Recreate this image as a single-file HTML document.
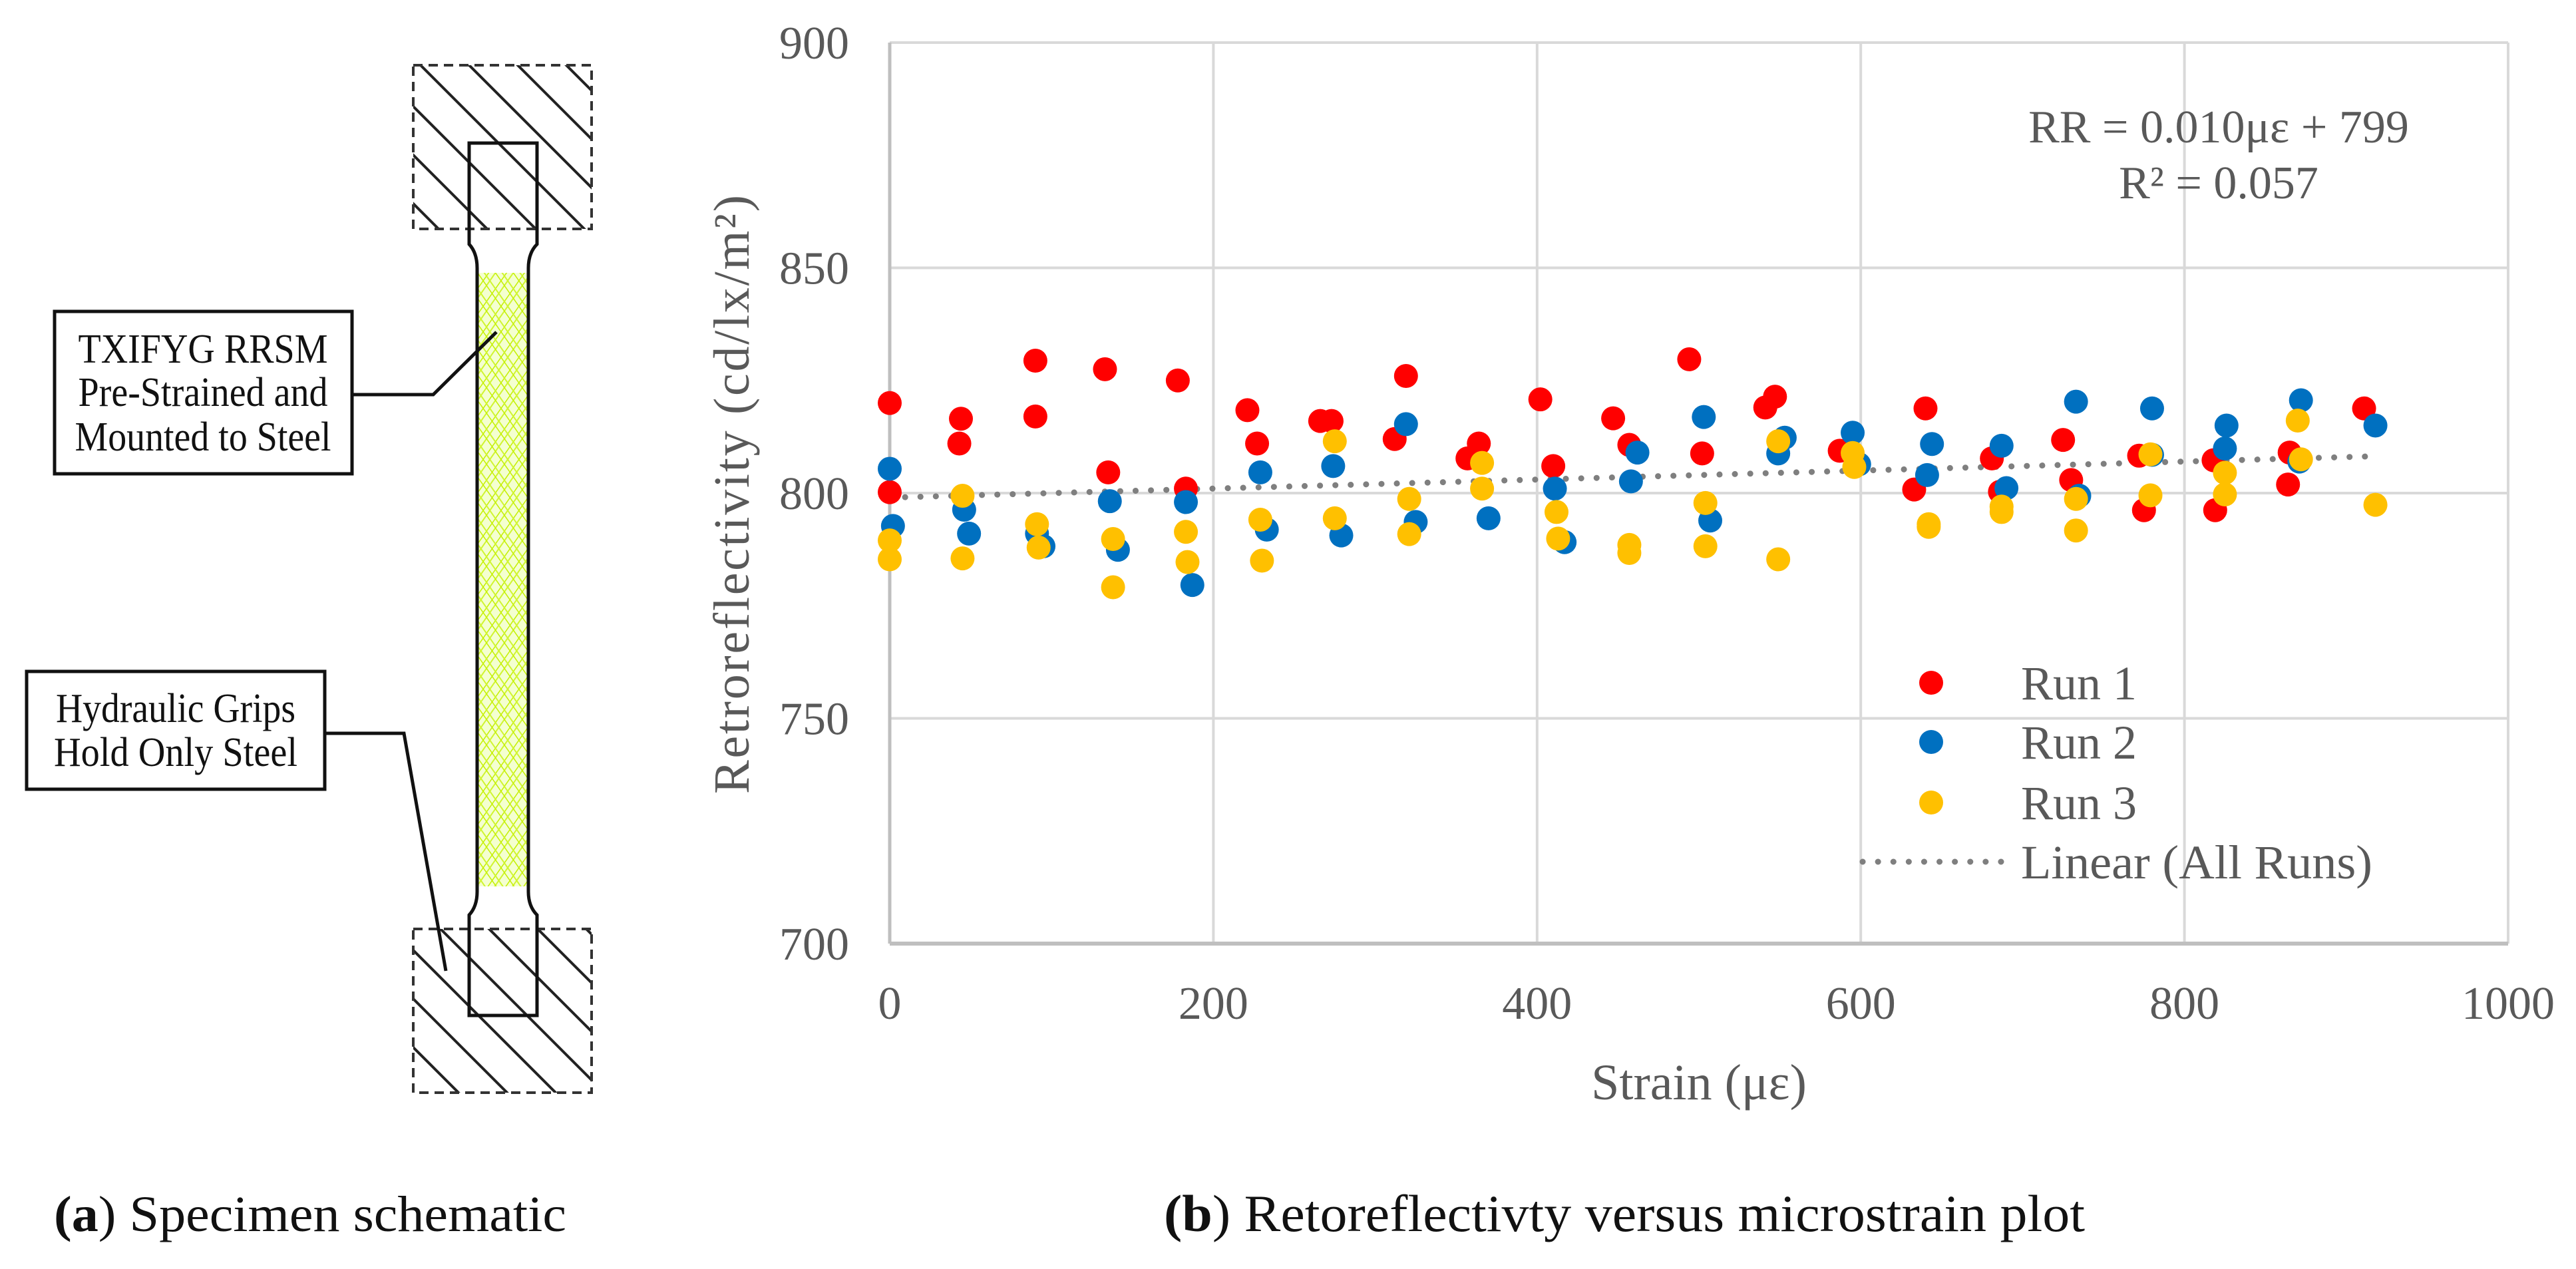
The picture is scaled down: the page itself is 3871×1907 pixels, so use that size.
<!DOCTYPE html>
<html><head><meta charset="utf-8"><style>
html,body{margin:0;padding:0;background:#fff;}
svg{display:block;}
text{font-family:"Liberation Serif",serif;}
</style></head><body>
<svg id="fig" width="3871" height="1907" viewBox="0 0 3871 1907" xmlns="http://www.w3.org/2000/svg">
<defs>
<pattern id="greenhatch" width="22" height="22" patternUnits="userSpaceOnUse" patternTransform="rotate(35)">
<rect width="22" height="22" fill="#f4ffd0"/>
<line x1="0" y1="0" x2="0" y2="22" stroke="#c4f000" stroke-width="3"/>
<line x1="9" y1="0" x2="9" y2="22" stroke="#d0f530" stroke-width="2"/>
</pattern>
<pattern id="greenhatch2" width="22" height="22" patternUnits="userSpaceOnUse" patternTransform="rotate(-35)">
<line x1="0" y1="0" x2="0" y2="22" stroke="#c4f000" stroke-width="3"/>
<line x1="9" y1="0" x2="9" y2="22" stroke="#d0f530" stroke-width="2"/>
</pattern>
<clipPath id="clipTop"><rect x="621" y="98" width="268" height="246"/></clipPath>
<clipPath id="clipBot"><rect x="621" y="1396" width="268" height="246"/></clipPath>
</defs>

<g id="schematic">
  <g id="hatchTop" clip-path="url(#clipTop)"></g>
  <g id="hatchBot" clip-path="url(#clipBot)"></g>
  <rect x="621" y="98" width="268" height="246" fill="none" stroke="#333" stroke-width="4" stroke-dasharray="14,9"/>
  <rect x="621" y="1396" width="268" height="246" fill="none" stroke="#333" stroke-width="4" stroke-dasharray="14,9"/>
  <rect x="717" y="410" width="77" height="922" fill="url(#greenhatch)"/>
  <rect x="717" y="410" width="77" height="922" fill="url(#greenhatch2)"/>
  <path d="M705,215 L807,215 L807,367 Q794,380 794,403 L794,1340 Q794,1362 807,1375 L807,1526 L705,1526 L705,1375 Q717,1362 717,1340 L717,403 Q717,380 705,367 Z" fill="none" stroke="#111" stroke-width="5"/>
  <rect x="82" y="468" width="447" height="244" fill="#fff" stroke="#111" stroke-width="5"/>
  <text x="305" y="545" font-size="62" text-anchor="middle" fill="#111" textLength="375" lengthAdjust="spacingAndGlyphs">TXIFYG RRSM</text>
  <text x="305" y="610" font-size="62" text-anchor="middle" fill="#111" textLength="375" lengthAdjust="spacingAndGlyphs">Pre-Strained and</text>
  <text x="305" y="677" font-size="62" text-anchor="middle" fill="#111" textLength="385" lengthAdjust="spacingAndGlyphs">Mounted to Steel</text>
  <polyline points="529,593 651,593 746,499" fill="none" stroke="#111" stroke-width="5"/>
  <rect x="40" y="1009" width="448" height="177" fill="#fff" stroke="#111" stroke-width="5"/>
  <text x="264" y="1085" font-size="62" text-anchor="middle" fill="#111" textLength="360" lengthAdjust="spacingAndGlyphs">Hydraulic Grips</text>
  <text x="264" y="1151" font-size="62" text-anchor="middle" fill="#111" textLength="366" lengthAdjust="spacingAndGlyphs">Hold Only Steel</text>
  <polyline points="488,1102 607,1102 670,1459" fill="none" stroke="#111" stroke-width="5"/>
  <text x="81" y="1850" font-size="76" fill="#111" textLength="770" lengthAdjust="spacingAndGlyphs"><tspan font-weight="bold">(a</tspan>) Specimen schematic</text>
</g>

<g id="chart">
  <g id="grid"></g>
  <g id="yticks"></g>
  <g id="xticks"></g>
  <g id="trend"></g>
  <g id="points"></g>
  <text transform="translate(1125,743) rotate(-90)" font-size="76" text-anchor="middle" fill="#595959" textLength="900" lengthAdjust="spacing">Retroreflectivity (cd/lx/m²)</text>
  <text x="2553" y="1652" font-size="76" text-anchor="middle" fill="#595959">Strain (με)</text>
  <text x="3334" y="214" font-size="70" text-anchor="middle" fill="#595959">RR = 0.010με + 799</text>
  <text x="3334" y="298" font-size="70" text-anchor="middle" fill="#595959">R² = 0.057</text>
  <g>
    <g><circle cx="2902" cy="1026" r="18" fill="#ff0000"/><text x="3037" y="1051" font-size="72" fill="#595959">Run 1</text></g>
    <g><circle cx="2902" cy="1115" r="18" fill="#0070c0"/><text x="3037" y="1140" font-size="72" fill="#595959">Run 2</text></g>
    <g><circle cx="2902" cy="1206" r="18" fill="#ffc000"/><text x="3037" y="1231" font-size="72" fill="#595959">Run 3</text></g>
    <g><line x1="2799" y1="1295" x2="3010" y2="1295" stroke="#7f7f7f" stroke-width="9" stroke-linecap="round" stroke-dasharray="0.1,23"/><text x="3037" y="1320" font-size="72" fill="#595959" textLength="528" lengthAdjust="spacingAndGlyphs">Linear (All Runs)</text></g>
  </g>
  <text x="1749" y="1850" font-size="78" fill="#111" textLength="1384" lengthAdjust="spacingAndGlyphs"><tspan font-weight="bold">(b</tspan>) Retoreflectivty versus microstrain plot</text>
</g>
</svg>
<script>
const xTicks = [0,200,400,600,800,1000];
const yTicks = [700,750,800,850,900];
const run1X = [0,0,44,43,90,90,133,135,178,183,221,227,266,273,312,319,357,364,402,410,447,457,494,502,541,547,587,640,633,681,686,725,730,772,775,818,819,865,864,911];
const run1Y = [820,800.2,816.5,811,829.4,817,827.5,804.6,825,801,818.4,811,816,816,812,826,807.7,811,820.8,806,816.6,810.7,829.7,808.8,819,821.4,809.4,818.8,800.8,807.7,800.3,811.8,802.9,808.3,796.2,807.3,796.2,809,801.9,818.8];
const run2X = [0,2,46,49,91,95,136,141,183,187,229,233,274,279,319,325,370,411,417,458,462,503,507,549,553,595,599,644,641,687,690,733,735,780,780,826,825,872,871,918];
const run2Y = [805.4,792.7,796.3,791,791,788.2,798.2,787.4,798,779.6,804.6,791.9,806,790.6,815.3,793.6,794.4,801,789.1,802.6,809,816.9,793.9,808.8,812.3,813.4,806.4,810.9,804,810.5,801.1,820.3,799.4,818.8,808.5,815,809.9,820.6,807,815];
const run3X = [0,0,45,45,91,92,138,138,183,184,229,230,275,275,321,321,366,366,412,413,457,457,504,504,549,549,595,596,642,642,687,687,733,733,779,779,825,825,870,872,918];
const run3Y = [789.5,785.3,799.4,785.5,793.1,787.9,789.8,779.1,791.4,784.7,794.1,785,811.5,794.4,798.7,790.9,806.7,801,795.8,789.9,788.5,786.7,797.8,788.2,811.5,785.3,808.9,805.8,793.1,792.5,797,795.8,798.7,791.7,808.6,799.5,804.5,799.7,816.1,807.5,797.4];
const trendSlope = 0.010;
const trendIntercept = 799;
const trendRange = [0, 918];

const NS = "http://www.w3.org/2000/svg";
const PL = 1337, PR = 3769, PT = 64, PB = 1418;
const X0 = 0, X1 = 1000, Y0 = 700, Y1 = 900;
function sx(v){ return PL + (v - X0) / (X1 - X0) * (PR - PL); }
function sy(v){ return PB - (v - Y0) / (Y1 - Y0) * (PB - PT); }
function mk(tag, attrs, parent){ const e = document.createElementNS(NS, tag); for (const k in attrs) e.setAttribute(k, attrs[k]); parent.appendChild(e); return e; }

// grip hatching: 45-degree lines x - y = d
function hatch(g, y0, base){
  for (let k = -8; k <= 8; k++){
    const d = base + k*73;
    const ya = y0 - 300, yb = y0 + 600;
    const l = mk('line', {x1: d + ya, y1: ya, x2: d + yb, y2: yb, stroke:'#222', 'stroke-width':4}, g);
    
    
  }
}
hatch(document.getElementById('hatchTop'), 98, 534);
hatch(document.getElementById('hatchBot'), 1396, 534 - 1298 + 30);

const grid = document.getElementById('grid');
xTicks.forEach(t => {
  if (t === X0) return;
  const l = mk('line', {x1: sx(t), y1: PT, x2: sx(t), y2: PB, stroke: '#d9d9d9', 'stroke-width': 4}, grid);
  
  
});
yTicks.forEach(t => {
  const l = mk('line', {x1: PL, y1: sy(t), x2: PR, y2: sy(t), stroke: t === Y0 ? '#bfbfbf' : '#d9d9d9', 'stroke-width': t === Y0 ? 6 : 4}, grid);
  
  
});
const yl = mk('line', {x1: PL, y1: PT, x2: PL, y2: PB, stroke: '#bfbfbf', 'stroke-width': 5}, grid);



const yt = document.getElementById('yticks');
yTicks.forEach(t => {
  const e = mk('text', {x: 1276, y: sy(t) + 24, 'font-size': 70, 'text-anchor': 'end', fill: '#595959'}, yt);
  e.textContent = t;
  
  
});
const xt = document.getElementById('xticks');
xTicks.forEach(t => {
  const e = mk('text', {x: sx(t), y: 1531, 'font-size': 70, 'text-anchor': 'middle', fill: '#595959'}, xt);
  e.textContent = t;
  
  
});

const tr = document.getElementById('trend');
const tl = mk('line', {x1: sx(trendRange[0]), y1: sy(trendIntercept + trendSlope*trendRange[0]), x2: sx(trendRange[1]), y2: sy(trendIntercept + trendSlope*trendRange[1]), stroke: '#7f7f7f', 'stroke-width': 9, 'stroke-linecap': 'round', 'stroke-dasharray': '0.1,23'}, tr);



const pts = document.getElementById('points');
function series(xs, ys, color, name){
  xs.forEach((x, i) => {
    const c = mk('circle', {cx: sx(x), cy: sy(ys[i]), r: 18, fill: color}, pts);
    
    
  });
}
series(run1X, run1Y, '#ff0000', 'run1-point');
series(run2X, run2Y, '#0070c0', 'run2-point');
series(run3X, run3Y, '#ffc000', 'run3-point');
</script>
</body></html>
